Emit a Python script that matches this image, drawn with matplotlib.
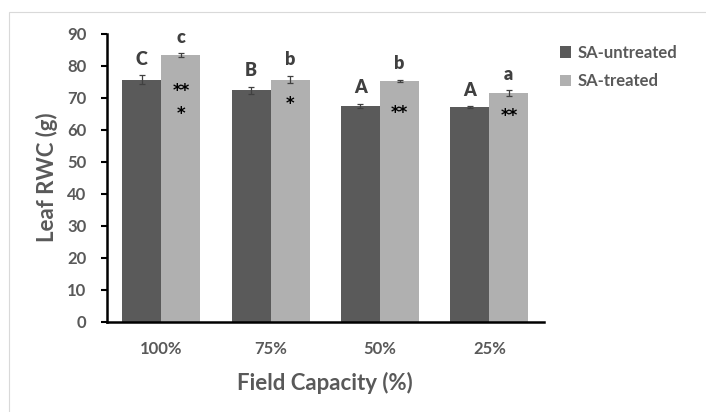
import numpy as np
import matplotlib
matplotlib.use('Agg')
import matplotlib.pyplot as plt
from matplotlib.patches import Rectangle

# Данные
categories = ['100%', '75%', '50%', '25%']
untreated = [75.6, 72.2, 67.4, 67.0]
treated = [83.3, 75.6, 75.1, 71.3]
untreated_err = [1.3, 1.2, 0.7, 0.2]
treated_err = [0.6, 1.2, 0.4, 0.9]
untreated_letters = ['C', 'B', 'A', 'A']
treated_letters = ['c', 'b', 'b', 'a']
star_text = [['**', '*'], ['*'], ['**'], ['**']]
star_y = [[73.3, 66.0], [69.4], [66.5], [65.6]]

dark = '#5a5a5a'
light = '#b0b0b0'
text_color = '#595959'

plt.rcParams['font.family'] = ['Lato', 'DejaVu Sans']
plt.rcParams['font.weight'] = 'bold'

fig = plt.figure(figsize=(7.06, 4.12), dpi=100)
ax = fig.add_axes([106.7 / 706, 1 - 321.5 / 412, 437.3 / 706, 288 / 412])

x = np.arange(len(categories))
w = 0.357
b1 = ax.bar(x - w / 2, untreated, w, color=dark, label='SA-untreated')
b2 = ax.bar(x + w / 2, treated, w, color=light, label='SA-treated')
ax.errorbar(x - w / 2, untreated, yerr=untreated_err, fmt='none', ecolor='#404040',
            elinewidth=0.9, capsize=2.5, capthick=0.9)
ax.errorbar(x + w / 2, treated, yerr=treated_err, fmt='none', ecolor='#404040',
            elinewidth=0.9, capsize=2.5, capthick=0.9)

# Буквы над столбцами
for i in range(len(categories)):
    ax.annotate(untreated_letters[i], (x[i] - w / 2, untreated[i] + untreated_err[i]),
                xytext=(0, 7.5), textcoords='offset points', ha='center', va='baseline',
                fontsize=13, fontweight='heavy', color='#404040')
    ax.annotate(treated_letters[i], (x[i] + w / 2, treated[i] + treated_err[i]),
                xytext=(0, 7.5), textcoords='offset points', ha='center', va='baseline',
                fontsize=13, fontweight='heavy', color='#404040')
    # Звездочки
    for s, yy in zip(star_text[i], star_y[i]):
        ax.annotate(s, (x[i] + w / 2, yy), xytext=(0, -3), textcoords='offset points',
                    ha='center', va='center', fontsize=12, fontweight='bold',
                    color='black', family='DejaVu Sans')

ax.set_xlim(-0.5, 3.5)
ax.set_ylim(0, 90)
ax.set_yticks(np.arange(0, 91, 10))
ax.set_xticks(x)
ax.set_xticklabels(categories)

for s in ['top', 'right']:
    ax.spines[s].set_visible(False)
for s in ['left', 'bottom']:
    ax.spines[s].set_linewidth(1.8)
    ax.spines[s].set_color('black')

ax.tick_params(axis='x', length=0, pad=14, labelsize=12, labelcolor=text_color)
ax.tick_params(axis='y', length=4.5, width=1.5, pad=10, labelsize=12, labelcolor=text_color)
for lbl in ax.get_xticklabels() + ax.get_yticklabels():
    lbl.set_fontweight('bold')

ax.set_xlabel('Field Capacity (%)', fontsize=16, fontweight='bold', color=text_color, va='center')
ax.xaxis.set_label_coords(0.5, -0.2135)
ax.set_ylabel('Leaf RWC (g)', fontsize=16, fontweight='bold', color=text_color, va='center')
ax.yaxis.set_label_coords(-0.1365, 0.5)

leg = fig.legend(handles=[b1, b2], loc='upper left', bbox_to_anchor=(553 / 706, 1 - 38 / 412),
                 frameon=False, fontsize=12, handlelength=0.7, handleheight=0.7,
                 handletextpad=0.4, labelspacing=0.75, borderaxespad=0)
for t in leg.get_texts():
    t.set_color(text_color)
    t.set_fontweight('bold')

# Рамка
fig.patches.append(Rectangle((9 / 706, -0.1), 1.2, (412 - 12) / 412 + 0.1,
                             transform=fig.transFigure, fill=False,
                             edgecolor='#d9d9d9', linewidth=0.8))

fig.savefig('out.png', dpi=100)
